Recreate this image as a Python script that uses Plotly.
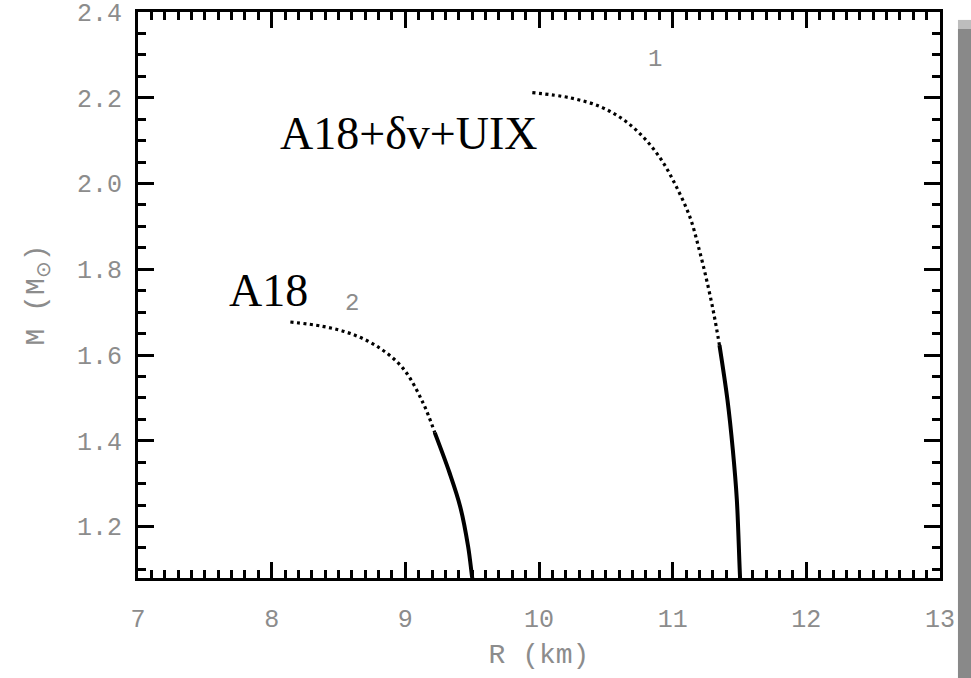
import plotly.graph_objects as go

# Mass-radius curves (R in km, M in solar masses)
# Model 2: A18 -- dotted (upper) and solid (lower) branches
r2_dot = [8.14, 8.38, 8.59, 8.79, 8.98, 9.13, 9.22]
m2_dot = [1.677, 1.667, 1.650, 1.620, 1.570, 1.490, 1.419]
r2_sol = [9.22, 9.33, 9.41, 9.47, 9.50, 9.51]
m2_sol = [1.419, 1.326, 1.247, 1.153, 1.081, 1.06]

# Model 1: A18+dv+UIX
r1_dot = [9.95, 10.23, 10.46, 10.64, 10.79, 10.92, 11.03, 11.13, 11.20, 11.26, 11.31, 11.35]
m1_dot = [2.212, 2.200, 2.179, 2.147, 2.105, 2.053, 1.991, 1.921, 1.844, 1.767, 1.693, 1.623]
r1_sol = [11.35, 11.41, 11.45, 11.48, 11.505, 11.51]
m1_sol = [1.623, 1.495, 1.379, 1.263, 1.077, 1.06]

x_ticks = [7, 8, 9, 10, 11, 12, 13]
y_ticks = [1.2, 1.4, 1.6, 1.8, 2.0, 2.2, 2.4]

fig = go.Figure()
for rx, my in [(r2_dot, m2_dot), (r1_dot, m1_dot)]:
    fig.add_trace(go.Scatter(x=rx, y=my, mode="lines", line_shape="spline",
                             line=dict(color="black", width=3.2, dash="3px,3.5px")))
for rx, my in [(r2_sol, m2_sol), (r1_sol, m1_sol)]:
    fig.add_trace(go.Scatter(x=rx, y=my, mode="lines", line_shape="spline",
                             line=dict(color="black", width=4)))

grey = "#8c8c8c"
tick_font = dict(family="Liberation Mono", size=25, color=grey)
axis_common = dict(showline=True, linecolor="black", linewidth=3, mirror="ticks",
                   ticks="inside", ticklen=16, tickwidth=3, tickcolor="black",
                   showgrid=False, zeroline=False, tickfont=tick_font, automargin=False,
                   ticklabeloverflow="allow")

fig.update_xaxes(range=[7, 13], tickvals=x_ticks, ticktext=[str(v) for v in x_ticks],
                 ticklabelstandoff=16,
                 minor=dict(dtick=0.1, tick0=7, ticks="inside", ticklen=8,
                            tickwidth=3, tickcolor="black", showgrid=False),
                 title=dict(text="R (km)", font=dict(family="Liberation Mono", size=28,
                                                     color=grey), standoff=10),
                 **axis_common)
fig.update_yaxes(range=[1.08, 2.40], tickvals=y_ticks, ticktext=[f"{v:.1f}" for v in y_ticks],
                 ticklabelstandoff=8,
                 minor=dict(dtick=0.05, tick0=1.0, ticks="inside", ticklen=8,
                            tickwidth=3, tickcolor="black", showgrid=False),
                 title=dict(text="M (M<sub>⊙</sub>)", font=dict(family="Liberation Mono", size=28,
                                                                 color=grey), standoff=25),
                 **axis_common)

label_font = dict(family="Liberation Serif", size=46, color="black")
small_font = dict(family="Liberation Mono", size=24, color=grey)
fig.add_annotation(x=9.03, y=2.116, text="A18+δv+UIX", showarrow=False, font=label_font)
fig.add_annotation(x=7.98, y=1.751, text="A18", showarrow=False, font=label_font)
fig.add_annotation(x=10.87, y=2.29, text="1", showarrow=False, font=small_font)
fig.add_annotation(x=8.60, y=1.721, text="2", showarrow=False, font=small_font)

# drop shadow along the right edge of the frame
fig.add_shape(type="rect", xref="paper", yref="paper", x0=1.0224, x1=1.05,
              y0=-0.2, y1=0.97, fillcolor="#898989", line_width=0, layer="above")
fig.add_shape(type="rect", xref="paper", yref="paper", x0=1.0224, x1=1.05,
              y0=0.97, y1=0.986, fillcolor="#bdbdbd", line_width=0, layer="above")

fig.update_layout(width=971, height=678, showlegend=False,
                  margin=dict(l=138, r=31, t=12, b=100),
                  plot_bgcolor="white", paper_bgcolor="white")

fig.write_html("out.html")
